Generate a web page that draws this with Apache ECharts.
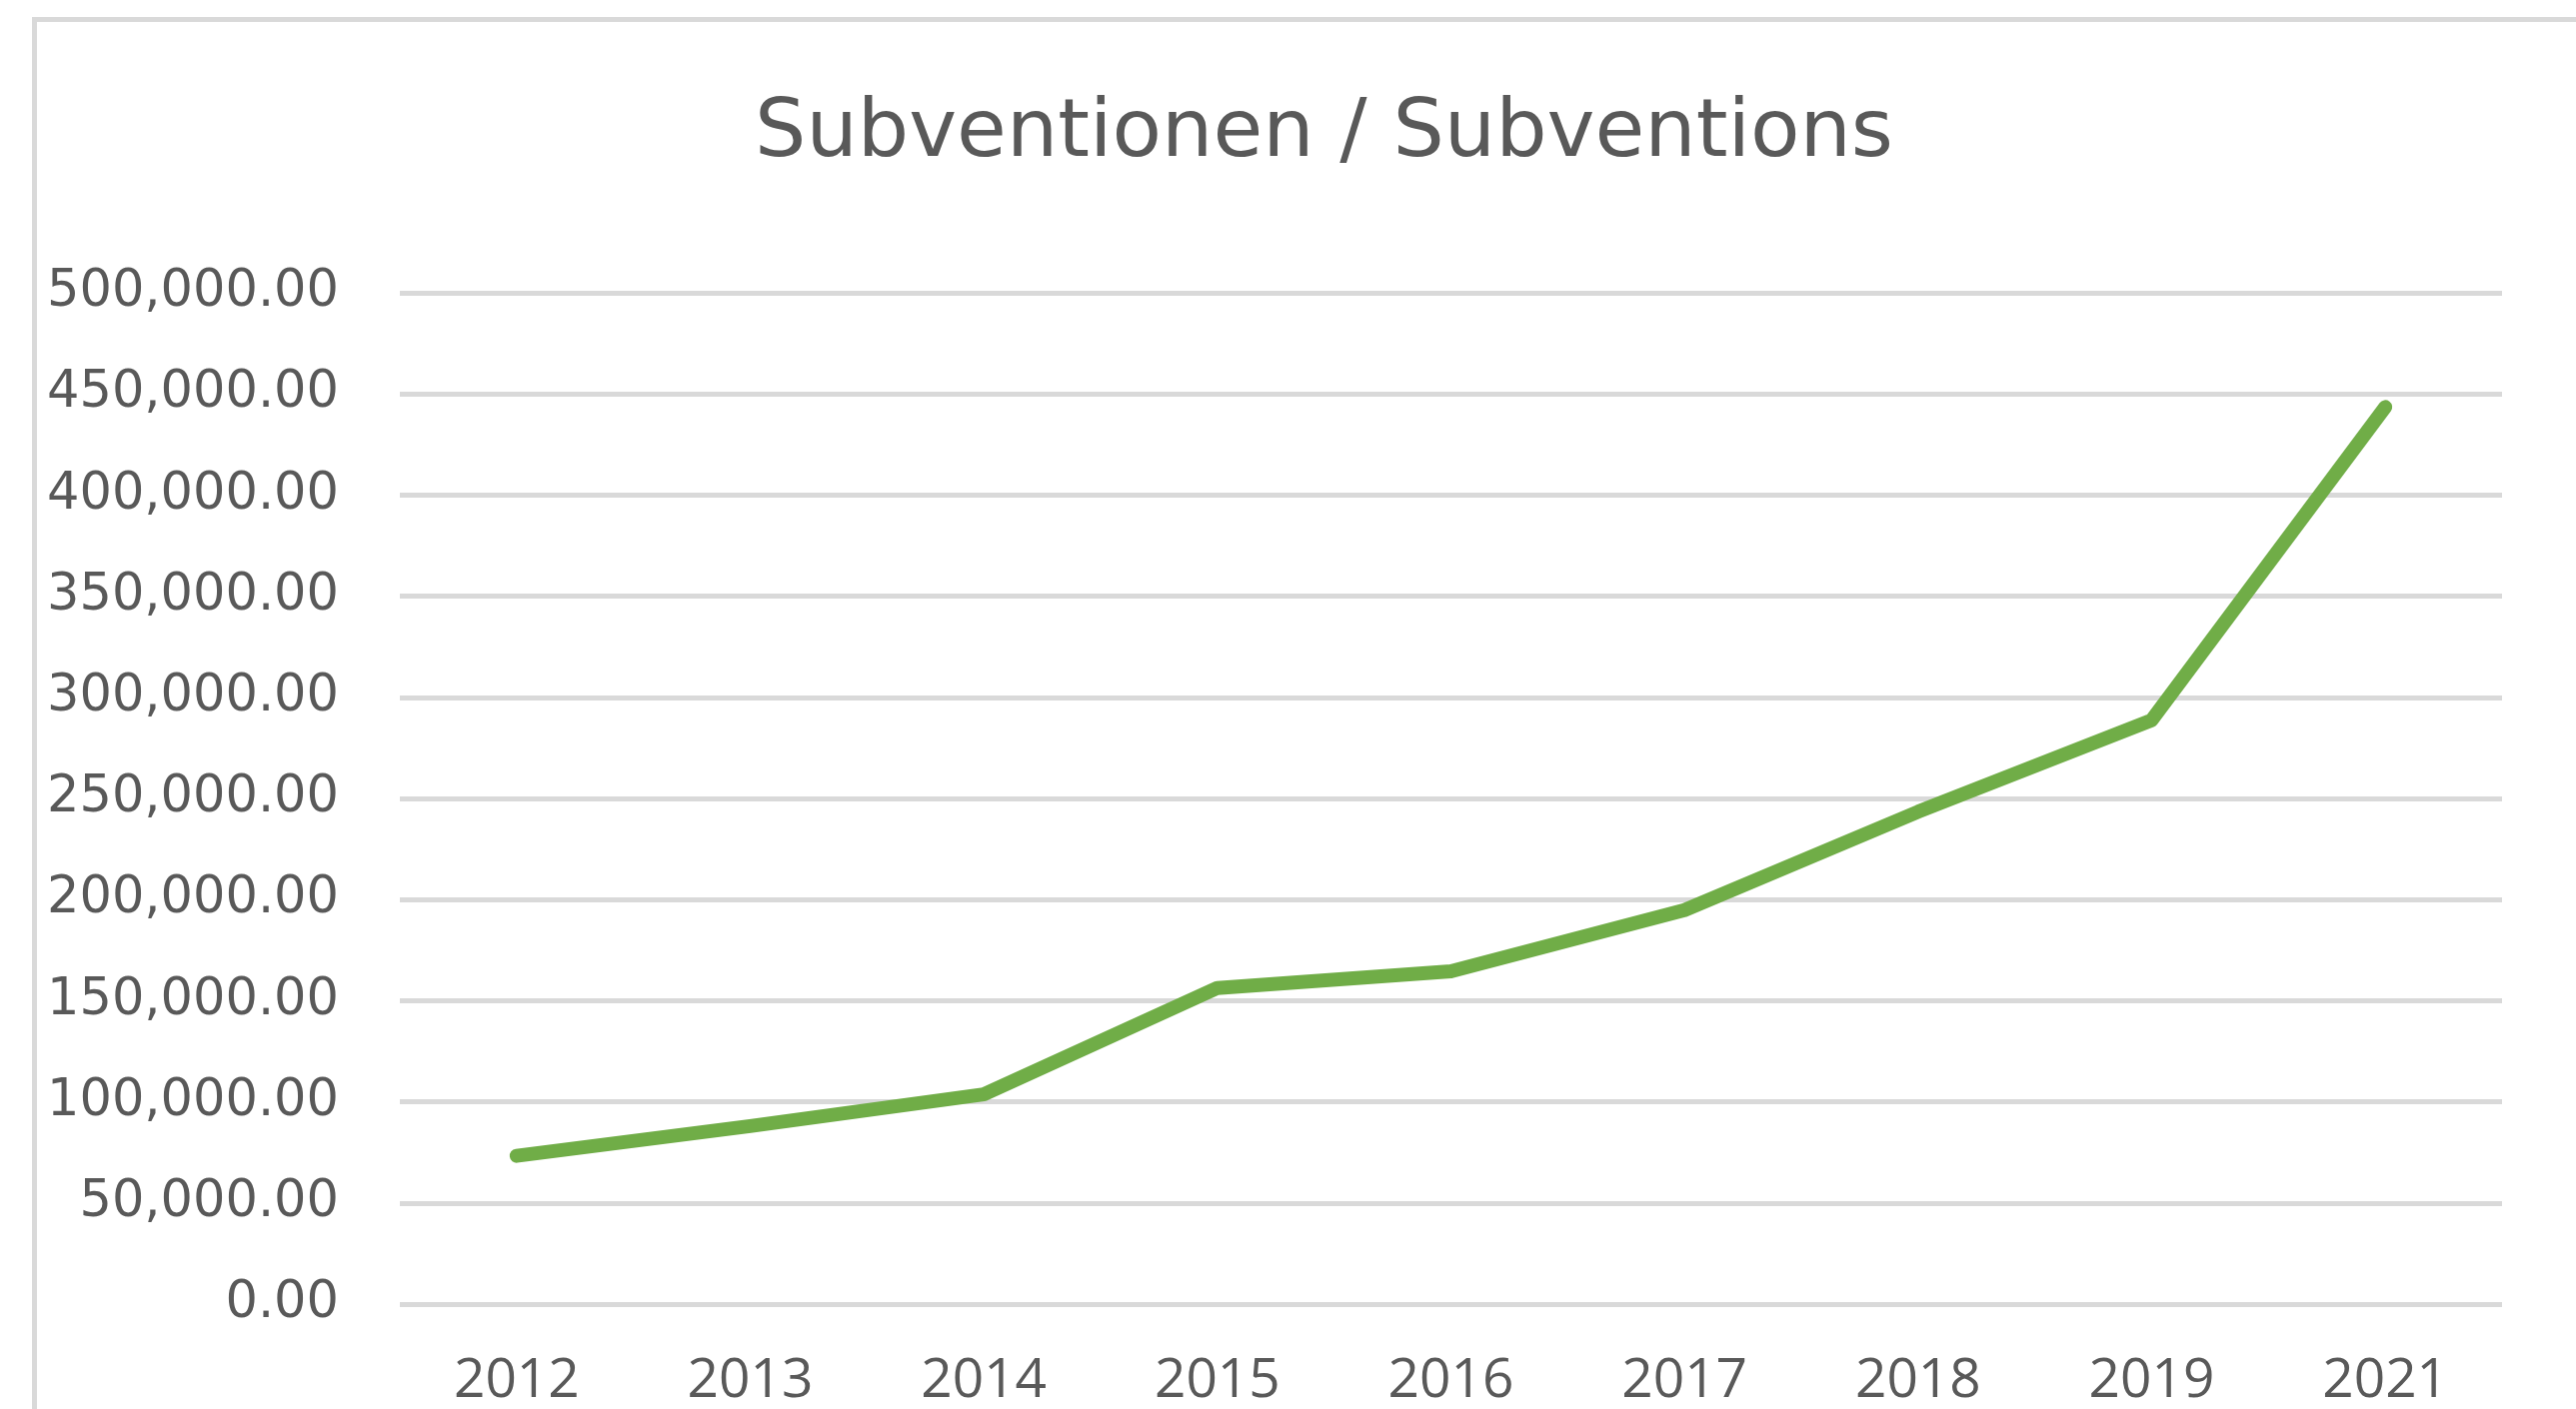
<!DOCTYPE html>
<html>
<head>
<meta charset="utf-8">
<title>Subventionen / Subventions</title>
<script src="https://cdn.jsdelivr.net/npm/echarts@6/dist/echarts.min.js"></script>
<style>
  html, body { margin: 0; padding: 0; background: #ffffff; }
  #chart { width: 2577px; height: 1410px; }
</style>
</head>
<body>
<div id="chart"></div>
<script>
// Years shown along the horizontal axis (2020 is not part of the series)
const years = ['2012', '2013', '2014', '2015', '2016', '2017', '2018', '2019', '2021'];
// Subsidy totals per year
const subsidies = [73300, 88000, 103700, 156300, 164500, 194800, 243400, 288700, 443500];
// Value axis range and step
const yMin = 0;
const yMax = 500000;
const yStep = 50000;

function formatAmount(v) {
  const fixed = Number(v).toFixed(2);
  const parts = fixed.split('.');
  parts[0] = parts[0].replace(/\B(?=(\d{3})+(?!\d))/g, ',');
  return parts.join('.');
}

const chart = echarts.init(document.getElementById('chart'), null, { renderer: 'canvas' });

chart.setOption({
  backgroundColor: '#ffffff',
  animation: false,
  title: {
    text: 'Subventionen / Subventions',
    left: 750,
    top: 89,
    textStyle: {
      fontFamily: 'DejaVu Sans',
      fontSize: 81,
      fontWeight: 'normal',
      color: '#595959'
    }
  },
  graphic: [{
    type: 'rect',
    left: 32,
    top: 17,
    shape: { x: 0, y: 0, width: 2700, height: 1600 },
    style: { fill: 'none', stroke: '#d9d9d9', lineWidth: 5 },
    silent: true,
    z: -1
  }],
  grid: {
    left: 400,
    right: 74,
    top: 293,
    bottom: 102,
    containLabel: false
  },
  xAxis: {
    type: 'category',
    data: years,
    boundaryGap: true,
    axisLine: { show: false },
    axisTick: { show: false },
    axisLabel: {
      margin: 50,
      fontFamily: 'Open Sans',
      fontSize: 55,
      color: '#595959'
    }
  },
  yAxis: {
    type: 'value',
    min: yMin,
    max: yMax,
    interval: yStep,
    axisLine: { show: false },
    axisTick: { show: false },
    splitLine: { lineStyle: { color: '#d9d9d9', width: 5 } },
    axisLabel: {
      margin: 61,
      fontFamily: 'DejaVu Sans',
      fontSize: 51,
      color: '#595959',
      formatter: formatAmount
    }
  },
  series: [{
    name: 'Subventionen / Subventions',
    type: 'line',
    data: subsidies,
    showSymbol: false,
    symbol: 'none',
    smooth: false,
    lineStyle: { color: '#70ad47', width: 14, cap: 'round', join: 'round' },
    itemStyle: { color: '#70ad47' }
  }]
});
</script>
</body>
</html>
